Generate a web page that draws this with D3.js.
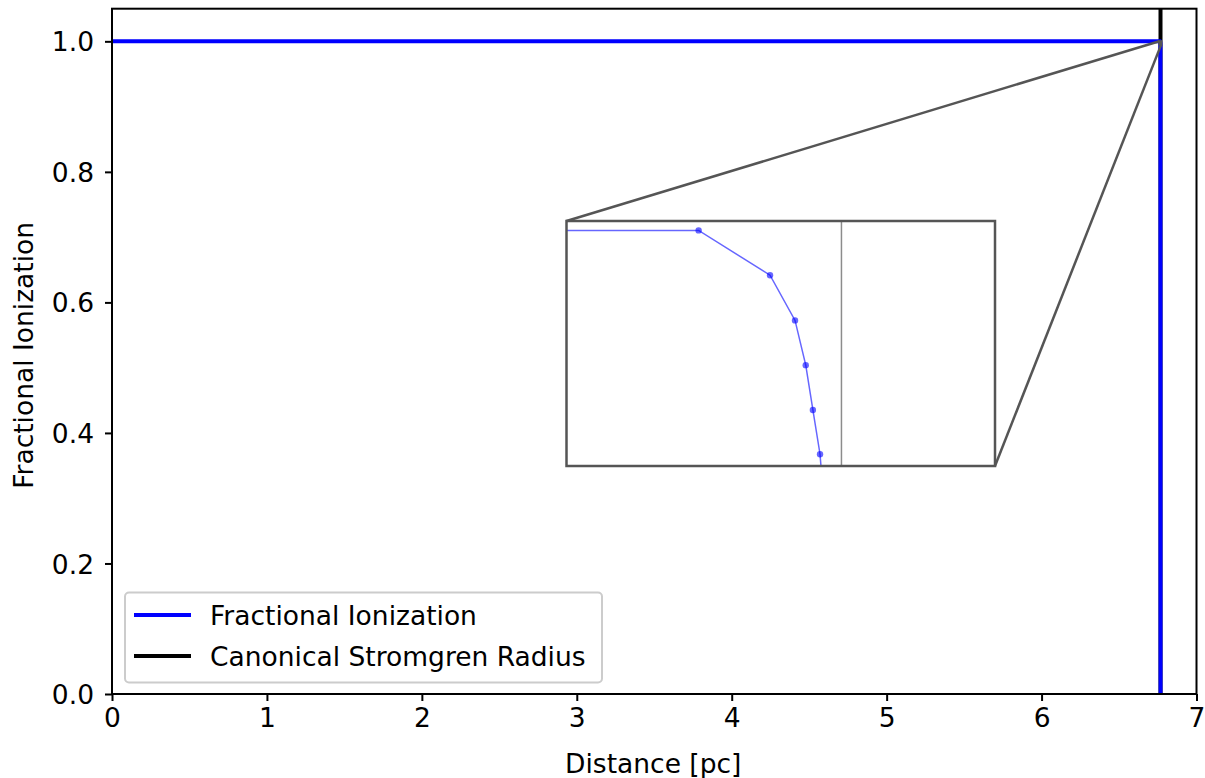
<!DOCTYPE html>
<html>
<head>
<meta charset="utf-8">
<script src="https://cdn.jsdelivr.net/npm/d3@7"></script>
<style>
  body { margin: 0; background: #fff; }
  svg { display: block; font-family: "DejaVu Sans", sans-serif; }
</style>
</head>
<body>
<svg width="1205" height="778"></svg>
<script>
// ionization profile (distance in pc, fraction ionized)
var distance = [0, 6.7637, 6.7657, 6.7664, 6.7667, 6.7669, 6.7671, 6.7672, 6.7674, 6.7676, 6.7678, 6.7680];
var ionFrac  = [1.0, 1.0, 0.99905, 0.99809, 0.99714, 0.99619, 0.99525, 0.9943, 0.95, 0.6, 0.2, 0.0];
var stromgrenRadius = 6.7677;

var xTicks = [0, 1, 2, 3, 4, 5, 6, 7];
var yTicks = [0.0, 0.2, 0.4, 0.6, 0.8, 1.0];

// zoomed region shown in the inset
var insetX = [6.760, 6.772];
var insetY = [0.995, 1.0002];

var legendNames = ["Fractional Ionization", "Canonical Stromgren Radius"];
var legendColors = ["#0000ff", "#000000"];

var data = distance.map(function(d, i) { return {x: d, y: ionFrac[i]}; });

var svg = d3.select("svg");
var mLeft = 112, mRight = 1196.5, mTop = 8.7, mBottom = 694;

var x = d3.scaleLinear().domain([0, 7]).range([mLeft, mRight]);
var y = d3.scaleLinear().domain([0, 1.05]).range([mBottom, mTop]);

var defs = svg.append("defs");
defs.append("clipPath").attr("id", "main-clip")
    .append("rect").attr("x", mLeft).attr("y", mTop).attr("width", mRight - mLeft).attr("height", mBottom - mTop);

var plot = svg.append("g").attr("clip-path", "url(#main-clip)");

plot.append("line")
    .attr("x1", x(stromgrenRadius)).attr("x2", x(stromgrenRadius))
    .attr("y1", y(0)).attr("y2", y(1.05))
    .attr("stroke", "#000").attr("stroke-width", 4);

var line = d3.line().x(function(d) { return x(d.x); }).y(function(d) { return y(d.y); });
plot.append("path").datum(data)
    .attr("d", line)
    .attr("fill", "none").attr("stroke", "#0000ff").attr("stroke-width", 4);

// axes
var fs = 26.5;
var xAxis = svg.append("g")
    .attr("transform", "translate(0," + mBottom + ")")
    .call(d3.axisBottom(x).tickValues(xTicks).tickFormat(d3.format("d")).tickSize(7).tickPadding(7));
var yAxis = svg.append("g")
    .attr("transform", "translate(" + mLeft + ",0)")
    .call(d3.axisLeft(y).tickValues(yTicks).tickFormat(d3.format(".1f")).tickSize(7).tickPadding(11));

[xAxis, yAxis].forEach(function(a) {
    a.select(".domain").remove();
    a.selectAll(".tick line").attr("stroke", "#000").attr("stroke-width", 2);
    a.selectAll(".tick text").attr("fill", "#000").style("font-size", fs + "px").style("font-family", "DejaVu Sans");
});
yAxis.selectAll(".tick text").attr("dy", "0.36em");

svg.append("rect")
    .attr("x", mLeft).attr("y", mTop).attr("width", mRight - mLeft).attr("height", mBottom - mTop)
    .attr("fill", "none").attr("stroke", "#000").attr("stroke-width", 2);

svg.append("text")
    .attr("x", (mLeft + mRight) / 2 - 1).attr("y", 773)
    .attr("text-anchor", "middle").style("font-size", fs + "px")
    .text("Distance [pc]");

svg.append("text")
    .attr("transform", "translate(33," + ((mTop + mBottom) / 2 + 4) + ") rotate(-90)")
    .attr("text-anchor", "middle").style("font-size", fs + "px")
    .text("Fractional Ionization");

// inset
var iL = 566.5, iR = 995, iT = 221, iB = 466;
var ix = d3.scaleLinear().domain(insetX).range([iL, iR]);
var iy = d3.scaleLinear().domain(insetY).range([iB, iT]);

defs.append("clipPath").attr("id", "inset-clip")
    .append("rect").attr("x", iL).attr("y", iT).attr("width", iR - iL).attr("height", iB - iT);

svg.append("rect").attr("x", iL).attr("y", iT).attr("width", iR - iL).attr("height", iB - iT).attr("fill", "#fff");

var inset = svg.append("g").attr("clip-path", "url(#inset-clip)");
inset.append("line")
    .attr("x1", ix(stromgrenRadius)).attr("x2", ix(stromgrenRadius))
    .attr("y1", iB).attr("y2", iT)
    .attr("stroke", "#000").attr("stroke-opacity", 0.45).attr("stroke-width", 1.5);

var iline = d3.line().x(function(d) { return ix(d.x); }).y(function(d) { return iy(d.y); });
inset.append("path").datum(data)
    .attr("d", iline)
    .attr("fill", "none").attr("stroke", "#0000ff").attr("stroke-opacity", 0.6).attr("stroke-width", 1.5);
inset.selectAll("circle").data(data.slice(1)).enter().append("circle")
    .attr("cx", function(d) { return ix(d.x); })
    .attr("cy", function(d) { return iy(d.y); })
    .attr("r", 3.2)
    .attr("fill", "#0000ff").attr("fill-opacity", 0.6);

var edge = "#555";
svg.append("rect").attr("x", iL).attr("y", iT).attr("width", iR - iL).attr("height", iB - iT)
    .attr("fill", "none").attr("stroke", edge).attr("stroke-width", 2.5);

// marked region and connectors
var zx0 = x(insetX[0]), zx1 = x(insetX[1]), zy0 = y(insetY[1]), zy1 = y(insetY[0]);
svg.append("rect").attr("x", zx0).attr("y", zy0).attr("width", zx1 - zx0).attr("height", zy1 - zy0)
    .attr("fill", "none").attr("stroke", edge).attr("stroke-width", 2);
svg.append("line").attr("x1", iL).attr("y1", iT).attr("x2", zx0).attr("y2", zy0)
    .attr("stroke", edge).attr("stroke-width", 2.5);
svg.append("line").attr("x1", iR).attr("y1", iB).attr("x2", zx1).attr("y2", zy1)
    .attr("stroke", edge).attr("stroke-width", 2.5);

// legend
var lg = svg.append("g");
lg.append("rect").attr("x", 125).attr("y", 592.5).attr("width", 477).attr("height", 90)
    .attr("rx", 4).attr("fill", "#fff").attr("fill-opacity", 0.8)
    .attr("stroke", "#ccc").attr("stroke-width", 2);
legendNames.forEach(function(name, i) {
    var cy = 615 + i * 41;
    lg.append("line").attr("x1", 134).attr("x2", 191).attr("y1", cy).attr("y2", cy)
        .attr("stroke", legendColors[i]).attr("stroke-width", 4);
    lg.append("text").attr("x", 210).attr("y", cy + 10)
        .style("font-size", fs + "px").text(name);
});
</script>
</body>
</html>
